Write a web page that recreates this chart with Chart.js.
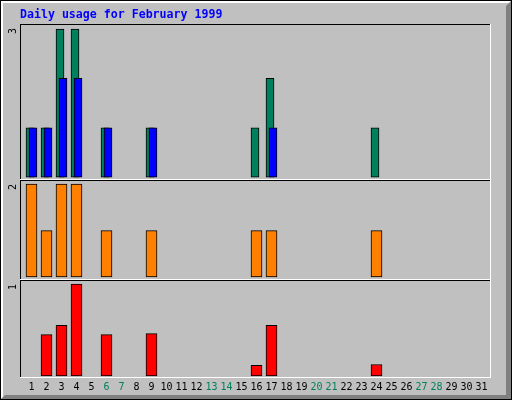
<!DOCTYPE html>
<html>
<head>
<meta charset="utf-8">
<title>Daily usage for February 1999</title>
<script src="https://cdn.jsdelivr.net/npm/chart.js@4.4.0/dist/chart.umd.min.js"></script>
<style>
  html, body { margin: 0; padding: 0; background: #c0c0c0; }
  canvas { display: block; }
</style>
</head>
<body>
<canvas id="daily" width="512" height="400"></canvas>
<script>
// Daily usage graph, Webalizer style
// Three stacked panels: hits/files, sites, kbytes

const days = [1, 2, 3, 4, 5, 6, 7, 8, 9, 10, 11, 12, 13, 14, 15, 16,
  17, 18, 19, 20, 21, 22, 23, 24, 25, 26, 27, 28, 29, 30, 31];
const weekendDays = [6, 7, 13, 14, 20, 21, 27, 28];

const hits   = [1, 1, 3, 3, 0, 1, 0, 0, 1, 0, 0, 0, 0, 0, 0, 1, 2, 0, 0, 0, 0, 0, 0, 1, 0, 0, 0, 0, 0, 0, 0];
const files  = [1, 1, 2, 2, 0, 1, 0, 0, 1, 0, 0, 0, 0, 0, 0, 0, 1, 0, 0, 0, 0, 0, 0, 0, 0, 0, 0, 0, 0, 0, 0];
const sites  = [2, 1, 2, 2, 0, 1, 0, 0, 1, 0, 0, 0, 0, 0, 0, 1, 1, 0, 0, 0, 0, 0, 0, 1, 0, 0, 0, 0, 0, 0, 0];
const kbytes = [0, 0.45, 0.55, 1, 0, 0.45, 0, 0, 0.46, 0, 0, 0, 0, 0, 0, 0.115, 0.55, 0, 0, 0, 0, 0, 0, 0.125, 0, 0, 0, 0, 0, 0, 0];

// max label shown at the top left of each panel (top to bottom)
const panelLabels = ["3", "2", "1"];

// colours
const GREY = "#c0c0c0";
const DKGREY = "#808080";
const HIT_COLOR = "#00805c";
const FILE_COLOR = "#0000ff";
const SITE_COLOR = "#ff8000";
const KBYTE_COLOR = "#ff0000";
const MONO = '"DejaVu Sans Mono", "Liberation Mono", monospace';

// only days with a value get a bar
function toPoints(values) {
  return days
    .map((d, i) => ({ x: d, y: values[i] }))
    .filter((p) => p.y > 0);
}

function barSet(label, values, color, xAxis, yAxis, thickness) {
  return {
    label: label,
    data: toPoints(values),
    backgroundColor: color,
    borderColor: "#000000",
    borderWidth: 1,
    borderSkipped: false,
    barThickness: thickness,
    grouped: false,
    xAxisID: xAxis,
    yAxisID: yAxis,
  };
}

// background, 3d border, panel boxes and rotated panel labels
const webalizerFrame = {
  id: "webalizerFrame",
  beforeDraw(chart) {
    const { ctx, width, height } = chart;
    ctx.save();
    ctx.fillStyle = "#000000";
    ctx.fillRect(0, 0, width, height);
    ctx.fillStyle = GREY;
    ctx.fillRect(1, 1, width - 2, height - 2);
    ctx.fillStyle = "#ffffff";
    ctx.fillRect(1, 1, width - 2, 2);
    ctx.fillRect(1, 1, 2, height - 2);
    ctx.fillStyle = DKGREY;
    ctx.beginPath();
    ctx.moveTo(width - 1, 1);
    ctx.lineTo(width - 1, height - 1);
    ctx.lineTo(1, height - 1);
    ctx.lineTo(5, height - 5);
    ctx.lineTo(width - 6, height - 5);
    ctx.lineTo(width - 6, 6);
    ctx.closePath();
    ctx.fill();
    ctx.restore();
  },
  beforeDatasetsDraw(chart) {
    const { ctx, chartArea } = chart;
    const left = chartArea.left;
    const w = chartArea.right - chartArea.left;
    ["yHits", "ySites", "yKbytes"].forEach((id, i) => {
      const s = chart.scales[id];
      const top = Math.round(s.top);
      const bottom = Math.round(s.bottom);
      ctx.save();
      ctx.fillStyle = "#000000";
      ctx.fillRect(left, top, w, 1);
      ctx.fillRect(left, top, 1, bottom - top);
      ctx.fillStyle = "#ffffff";
      ctx.fillRect(left, bottom - 1, w, 1);
      ctx.fillRect(chartArea.right - 1, top, 1, bottom - top);

      ctx.translate(13, top + 4);
      ctx.rotate(-Math.PI / 2);
      ctx.fillStyle = "#000000";
      ctx.font = "10px " + MONO;
      ctx.textAlign = "right";
      ctx.textBaseline = "middle";
      ctx.fillText(panelLabels[i], 0, 0);
      ctx.restore();
    });
  },
};

const hiddenX = (min, max) => ({
  type: "linear",
  position: "bottom",
  display: false,
  offset: false,
  min: min,
  max: max,
});

const hiddenY = (min, max, weight) => ({
  type: "linear",
  position: "left",
  display: false,
  stack: "panels",
  stackWeight: weight,
  min: min,
  max: max,
});

new Chart(document.getElementById("daily"), {
  type: "bar",
  data: {
    datasets: [
      barSet("Files", files, FILE_COLOR, "xFiles", "yHits", 8),
      barSet("Hits", hits, HIT_COLOR, "xHits", "yHits", 8),
      barSet("Sites", sites, SITE_COLOR, "x", "ySites", 11),
      barSet("KBytes", kbytes, KBYTE_COLOR, "x", "yKbytes", 11),
    ],
  },
  options: {
    responsive: false,
    animation: false,
    events: [],
    layout: {
      padding: { left: 20, right: 21, top: 0, bottom: 4 },
    },
    scales: {
      x: {
        type: "linear",
        position: "bottom",
        offset: false,
        min: 0.2333,
        max: 31.6333,
        grid: { display: false, drawTicks: false },
        border: { display: false },
        afterBuildTicks: (axis) => {
          axis.ticks = days.map((d) => ({ value: d }));
        },
        ticks: {
          autoSkip: false,
          maxRotation: 0,
          padding: 3,
          font: { family: MONO, size: 10 },
          color: (ctx) =>
            weekendDays.includes(ctx.tick.value) ? HIT_COLOR : "#000000",
        },
      },
      xHits: hiddenX(0.3333, 31.7333),
      xFiles: hiddenX(0.1333, 31.5333),
      yKbytes: hiddenY(-0.0217, 1.0435, 98),
      ySites: hiddenY(-0.0645, 2.086, 100),
      yHits: hiddenY(-0.0608, 3.1014, 156),
    },
    plugins: {
      legend: { display: false },
      tooltip: { enabled: false },
      title: {
        display: true,
        text: "Daily usage for February 1999",
        align: "start",
        color: "#0000ff",
        font: { family: MONO, size: 11.6, weight: "bold", lineHeight: 1.2 },
        padding: { top: 8, bottom: 2.2 },
      },
    },
  },
  plugins: [webalizerFrame],
});
</script>
</body>
</html>
